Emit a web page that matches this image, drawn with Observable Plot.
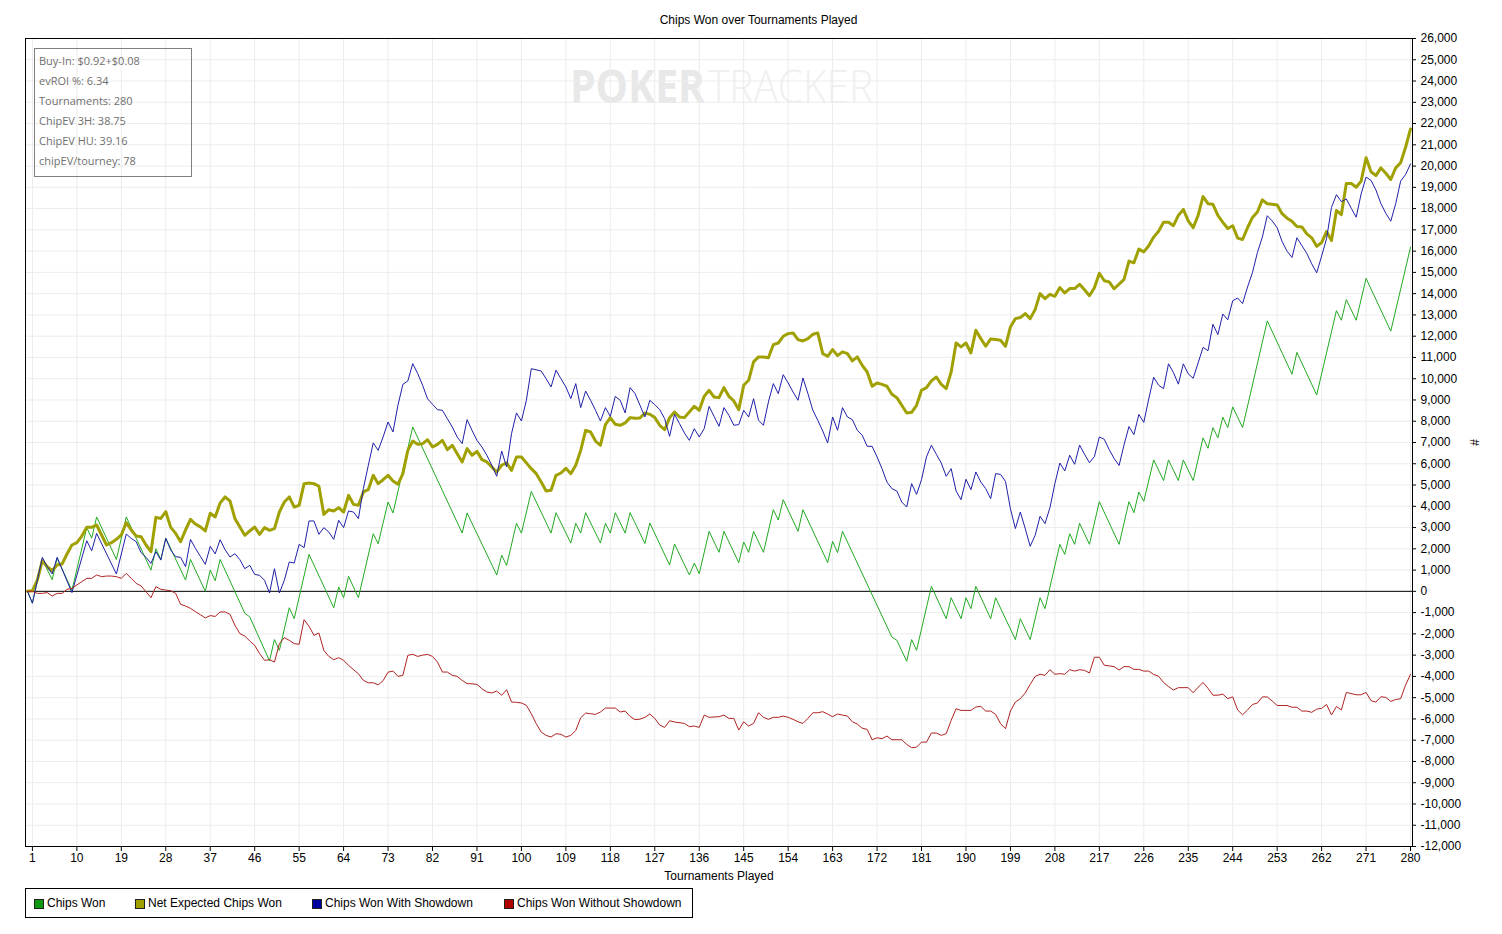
<!DOCTYPE html>
<html><head><meta charset="utf-8">
<script src="https://cdn.jsdelivr.net/npm/d3@7"></script>
<script src="https://cdn.jsdelivr.net/npm/@observablehq/plot@0.6"></script>
<style>
body{margin:0;background:#fff;}
#wrap{position:relative;width:1502px;height:934px;overflow:hidden;font-family:"Liberation Sans",Arial,sans-serif;color:#000;}
#wm{position:absolute;left:0;top:0;}
#chart{position:absolute;left:0;top:0;}
#title{position:absolute;left:0;width:1517px;top:13px;text-align:center;font-size:12px;}
#info{position:absolute;left:34px;top:48px;width:158px;height:129px;box-sizing:border-box;border:1px solid #808080;font-family:"Open Sans","Noto Sans",sans-serif;font-size:11px;color:#707070;}
#info div{position:absolute;left:4px;line-height:14px;white-space:nowrap;}
#legend{position:absolute;left:25px;top:888px;width:668px;height:30px;box-sizing:border-box;border:1px solid #000;font-size:12px;}
.sw{position:absolute;top:10px;width:8px;height:8px;border:1px solid #202020;box-sizing:content-box;}
.lt{position:absolute;top:7px;white-space:nowrap;line-height:14px;}
</style></head>
<body>
<div id="wrap">
<svg id="wm" width="1502" height="934">
  <text x="570" y="103" font-family="Open Sans" font-weight="700" font-size="46" fill="#e8e8e8" textLength="135" lengthAdjust="spacingAndGlyphs">POKER</text>
  <text x="708" y="103" font-family="Open Sans" font-weight="300" font-size="46" fill="#f0f0f0" textLength="165" lengthAdjust="spacingAndGlyphs">TRACKER</text>
</svg>
<div id="chart"></div>
<div id="title">Chips Won over Tournaments Played</div>
<div id="info"></div>
<div id="legend"></div>
</div>
<script>
// ---- data (tournament index, value) ----
const chipsWon = [[0,0],[1,-550],[3,1500],[5,550],[6,1550],[9,50],[12,3000],[13,2500],[14,3500],[18,1500],[20,3500],[25,1000],[26,2000],[27,1500],[28,2500],[32,530],[33,1500],[36,0],[37,1000],[38,500],[39,1500],[44,-1030],[45,-1200],[49,-3270],[50,-2270],[51,-2775],[53,-770],[54,-1285],[57,1740],[62,-770],[63,205],[64,-300],[65,705],[67,-300],[70,2710],[71,2240],[73,4200],[74,3685],[78,7730],[88,2744],[89,3685],[95,768],[96,1700],[97,1220],[99,3200],[100,2740],[102,4700],[106,2740],[107,3700],[110,2270],[111,3200],[112,2740],[113,3700],[116,2270],[117,3200],[118,2740],[119,3700],[121,2740],[122,3700],[125,2250],[126,3210],[130,1240],[131,2225],[134,770],[135,1330],[136,830],[138,2820],[140,1835],[141,2820],[144,1350],[145,2320],[146,1835],[147,2820],[149,1835],[151,3840],[152,3355],[153,4310],[156,2820],[157,3840],[162,1350],[163,2350],[164,1820],[165,2820],[175,-2150],[176,-2300],[178,-3290],[179,-2270],[180,-2775],[183,235],[186,-1285],[187,-300],[189,-1285],[190,-300],[191,-815],[192,235],[195,-1285],[196,-300],[200,-2270],[201,-1285],[203,-2270],[205,-300],[206,-815],[209,2210],[210,1740],[211,2710],[212,2210],[213,3200],[215,2210],[217,4220],[221,2210],[223,4220],[224,3700],[225,4670],[226,4235],[228,6180],[230,5210],[231,6180],[233,5210],[234,6180],[236,5210],[238,7220],[239,6730],[240,7700],[241,7220],[242,8190],[243,7700],[244,8675],[246,7700],[251,12720],[256,10210],[257,11240],[261,9235],[265,13200],[266,12750],[267,13720],[269,12750],[271,14720],[276,12235],[280,16185]];

const netExpected = [[0,0],[1,30],[2,530],[3,1440],[4,1160],[5,970],[6,1240],[7,1285],[8,1755],[9,2180],[10,2290],[11,2600],[12,3010],[13,3010],[14,3120],[15,2650],[16,2180],[17,2290],[18,2445],[19,2650],[20,3230],[21,2885],[22,2600],[23,2570],[24,2180],[25,1865],[26,3480],[27,3430],[28,3745],[29,3010],[30,2725],[31,2335],[32,2885],[33,3385],[34,3165],[35,3030],[36,2840],[37,3670],[38,3500],[39,4155],[40,4440],[41,4250],[42,3420],[43,3025],[44,2635],[45,2840],[46,3025],[47,2680],[48,2995],[49,2870],[50,2950],[51,3730],[52,4200],[53,4440],[54,3965],[55,4045],[56,5065],[57,5095],[58,5065],[59,4940],[60,3620],[61,3840],[62,3780],[63,3935],[64,3730],[65,4515],[66,4090],[67,4045],[68,4675],[69,4780],[70,5455],[71,5065],[72,5250],[73,5455],[74,5190],[75,5035],[76,5535],[77,6630],[78,7070],[79,6915],[80,6945],[81,7130],[82,6790],[83,6915],[84,7100],[85,6665],[86,6870],[87,6475],[88,6085],[89,6710],[90,6400],[91,6585],[92,6195],[93,6085],[94,5850],[95,5615],[96,5930],[97,6040],[98,5690],[99,6320],[100,6320],[101,6040],[102,5770],[103,5535],[104,5140],[105,4720],[106,4750],[107,5455],[108,5565],[109,5785],[110,5535],[111,5930],[112,6630],[113,7570],[114,7495],[115,7070],[116,6870],[117,7840],[118,8170],[119,7855],[120,7810],[121,7920],[122,8170],[123,8140],[124,8150],[125,8390],[126,8325],[127,8170],[128,7810],[129,7600],[130,8170],[131,8435],[132,8200],[133,8170],[134,8435],[135,8700],[136,8515],[137,9170],[138,9455],[139,9140],[140,9110],[141,9580],[142,9170],[143,8955],[144,8545],[145,9690],[146,9925],[147,10790],[148,11025],[149,11025],[150,10990],[151,11600],[152,11680],[153,11995],[154,12120],[155,12150],[156,11840],[157,11775],[158,11885],[159,12090],[160,12150],[161,11180],[162,11055],[163,11370],[164,11085],[165,11260],[166,11180],[167,10835],[168,11025],[169,10630],[170,10315],[171,9645],[172,9800],[173,9735],[174,9645],[175,9265],[176,9110],[177,8750],[178,8390],[179,8420],[180,8750],[181,9455],[182,9580],[183,9895],[184,10080],[185,9735],[186,9535],[187,10315],[188,11680],[189,11495],[190,11680],[191,11210],[192,12275],[193,11885],[194,11525],[195,11870],[196,11840],[197,11805],[198,11525],[199,12435],[200,12825],[201,12875],[202,13060],[203,12825],[204,13250],[205,14000],[206,13765],[207,13970],[208,13875],[209,14285],[210,14035],[211,14240],[212,14240],[213,14440],[214,14185],[215,13905],[216,14280],[217,14960],[218,14605],[219,14555],[220,14230],[221,14445],[222,14670],[223,15530],[224,15450],[225,16095],[226,15965],[227,16255],[228,16660],[229,16935],[230,17355],[231,17355],[232,17195],[233,17680],[234,17960],[235,17425],[236,17100],[237,17680],[238,18570],[239,18230],[240,18200],[241,17680],[242,17355],[243,17065],[244,17195],[245,16610],[246,16545],[247,17100],[248,17585],[249,17840],[250,18410],[251,18230],[252,18200],[253,18165],[254,17760],[255,17550],[256,17400],[257,17160],[258,17140],[259,16810],[260,16625],[261,16225],[262,16405],[263,16920],[264,16500],[265,17910],[266,17720],[267,19185],[268,19185],[269,19005],[270,19295],[271,20390],[272,19735],[273,19550],[274,19915],[275,19660],[276,19370],[277,19915],[278,20155],[279,20885],[280,21745]];

const withShowdown = [[0,0],[1,-560],[3,1600],[4,1160],[5,815],[6,1600],[9,-60],[12,2380],[13,1910],[14,2725],[18,815],[20,2695],[21,2490],[22,2335],[23,1820],[24,1600],[25,1315],[26,1865],[27,1470],[28,2490],[29,1945],[30,1630],[31,1600],[32,1160],[33,2445],[34,2020],[35,1650],[36,1270],[37,2115],[38,1760],[39,2430],[40,1960],[41,1615],[42,1770],[43,1490],[44,1066],[45,1225],[46,800],[47,750],[48,517],[49,-80],[50,1066],[51,-80],[52,517],[53,1380],[54,1330],[55,2210],[56,2055],[57,3310],[58,3310],[59,2680],[60,2995],[61,2790],[62,2445],[63,3340],[64,2995],[65,3780],[66,3730],[67,3420],[68,4830],[69,5925],[70,6980],[71,6630],[72,7260],[73,7965],[74,7495],[75,8750],[76,9735],[77,9895],[78,10710],[79,10240],[80,9690],[81,9050],[82,8800],[83,8545],[84,8515],[85,8120],[86,7730],[87,7260],[88,6946],[89,8075],[90,7570],[91,7100],[92,6790],[93,6400],[94,5930],[95,5410],[96,6600],[97,5850],[98,7420],[99,8390],[100,8010],[101,8985],[102,10470],[104,10365],[105,10000],[106,9610],[107,10400],[108,10000],[109,9610],[110,9065],[111,9770],[112,8640],[113,9420],[114,8985],[115,8515],[116,8010],[117,8640],[118,8230],[119,9170],[120,8985],[121,8390],[122,9580],[123,9300],[124,8750],[125,8200],[126,8985],[127,8780],[128,8545],[129,8120],[130,7290],[131,8325],[132,7890],[133,7450],[134,7100],[135,7650],[136,7260],[137,7650],[138,8700],[139,8230],[140,7760],[141,8640],[142,8280],[143,7810],[144,7840],[145,8515],[146,8200],[147,9060],[148,8045],[149,7810],[150,8905],[151,9770],[152,9300],[153,10190],[154,9800],[155,9375],[156,8985],[157,10035],[158,9300],[159,8515],[160,8045],[161,7540],[162,6980],[163,8200],[164,7575],[165,8640],[166,8200],[167,8075],[168,7575],[169,7340],[170,6820],[171,6820],[172,6320],[173,5770],[174,5140],[175,4830],[176,4720],[177,4200],[178,3965],[179,5065],[180,4560],[181,5250],[182,6320],[183,6870],[184,6445],[185,6035],[186,5410],[187,5770],[188,4720],[189,4310],[190,5270],[191,4780],[192,5615],[193,5140],[194,4830],[195,4360],[196,5535],[197,5500],[198,5170],[199,3885],[200,2950],[201,3730],[202,2950],[203,2120],[204,2635],[205,3530],[206,3185],[207,3935],[208,5065],[209,6035],[210,5660],[211,6400],[212,5975],[213,6880],[214,6445],[215,6050],[216,6340],[217,7260],[218,7150],[219,6665],[220,6245],[221,5920],[222,6890],[223,7750],[224,7370],[225,8320],[226,7945],[227,9045],[228,10070],[229,9695],[230,9530],[231,10700],[232,10290],[233,9745],[234,10700],[235,10230],[236,10020],[237,10745],[238,11475],[239,11315],[240,12560],[241,12075],[242,13045],[243,12770],[244,13665],[245,13795],[246,13535],[247,14310],[248,14990],[249,15930],[250,16660],[251,17665],[252,17420],[253,17100],[254,16450],[255,16000],[256,15700],[257,16630],[258,16260],[259,15895],[260,15400],[261,14980],[262,15765],[263,16590],[264,18050],[265,18655],[266,18325],[267,18455],[268,18015],[269,17595],[270,18690],[271,19480],[272,19330],[273,18875],[274,18235],[275,17780],[276,17410],[277,18235],[278,19295],[279,19605],[280,20100]];

const withoutShowdown = [[0,0],[1,0],[2,-95],[3,-95],[4,-60],[5,-220],[6,-95],[7,-95],[8,95],[9,140],[10,300],[11,455],[12,610],[13,610],[14,770],[15,690],[16,720],[17,720],[18,690],[19,610],[20,845],[21,610],[22,375],[23,250],[24,-15],[25,-300],[26,220],[27,95],[28,60],[29,30],[30,-95],[31,-610],[32,-690],[33,-800],[34,-955],[35,-1100],[36,-1250],[37,-1140],[38,-1180],[39,-970],[40,-970],[41,-1080],[42,-1600],[43,-1990],[44,-2100],[45,-2335],[46,-2540],[47,-2930],[48,-3245],[49,-3215],[50,-3325],[51,-2460],[52,-2180],[53,-2305],[54,-2460],[55,-2490],[56,-1330],[57,-1645],[58,-2070],[59,-1960],[60,-2775],[61,-3060],[62,-3215],[63,-3120],[64,-3245],[65,-3480],[66,-3685],[67,-3875],[68,-4185],[69,-4300],[70,-4300],[71,-4400],[72,-4200],[73,-3800],[74,-3750],[75,-4000],[76,-3950],[77,-3010],[78,-2960],[79,-3060],[80,-3000],[81,-2965],[82,-3060],[83,-3325],[84,-3795],[85,-3795],[86,-3950],[87,-4000],[88,-4185],[89,-4340],[90,-4350],[91,-4375],[92,-4580],[93,-4735],[94,-4780],[95,-4690],[96,-4890],[97,-4625],[98,-5205],[99,-5220],[100,-5250],[101,-5360],[102,-5755],[103,-6225],[104,-6615],[105,-6775],[106,-6850],[107,-6695],[108,-6725],[109,-6850],[110,-6775],[111,-6540],[112,-5945],[113,-5725],[114,-5755],[115,-5785],[116,-5675],[117,-5490],[118,-5490],[119,-5490],[120,-5675],[121,-5630],[122,-5880],[123,-6035],[124,-6010],[125,-5925],[126,-5770],[127,-5975],[128,-6290],[129,-6400],[130,-6085],[131,-6145],[133,-6210],[134,-6365],[135,-6335],[136,-6400],[137,-5820],[138,-5925],[140,-5895],[141,-5820],[142,-5975],[143,-5975],[144,-6525],[145,-6135],[146,-6335],[147,-6210],[148,-5710],[149,-5925],[150,-6020],[151,-5925],[152,-5925],[153,-5865],[154,-5925],[155,-6020],[156,-6135],[157,-6210],[158,-5975],[159,-5710],[160,-5710],[161,-5660],[162,-5770],[163,-5895],[164,-5770],[165,-5820],[166,-5865],[167,-6135],[168,-6240],[169,-6440],[170,-6490],[171,-6980],[172,-6885],[173,-6930],[174,-6805],[175,-6980],[177,-6980],[178,-7200],[179,-7355],[180,-7325],[181,-7090],[182,-7090],[183,-6665],[184,-6665],[185,-6775],[186,-6695],[187,-6070],[188,-5520],[189,-5600],[191,-5600],[192,-5440],[193,-5410],[194,-5630],[195,-5630],[196,-5785],[197,-6225],[198,-6460],[199,-5630],[200,-5205],[201,-5050],[202,-4780],[203,-4375],[204,-4000],[205,-3900],[206,-3950],[207,-3685],[208,-3900],[209,-3870],[210,-3900],[211,-3685],[212,-3750],[213,-3685],[214,-3715],[215,-3840],[216,-3100],[217,-3100],[218,-3475],[220,-3540],[221,-3700],[222,-3540],[223,-3540],[224,-3670],[225,-3670],[226,-3750],[227,-3750],[228,-3910],[229,-3995],[230,-4285],[231,-4480],[232,-4640],[233,-4530],[235,-4530],[236,-4770],[237,-4510],[238,-4285],[239,-4560],[240,-4885],[241,-4885],[242,-4835],[243,-5045],[244,-4965],[245,-5580],[246,-5805],[247,-5580],[248,-5320],[249,-5255],[250,-4965],[251,-4965],[252,-5160],[253,-5370],[254,-5370],[255,-5370],[256,-5450],[257,-5450],[258,-5630],[259,-5630],[260,-5690],[261,-5540],[262,-5505],[263,-5320],[264,-5815],[265,-5415],[266,-5580],[267,-4755],[269,-4865],[270,-4865],[271,-4755],[272,-5140],[273,-5210],[274,-4955],[275,-4990],[276,-5175],[277,-5085],[278,-5050],[279,-4410],[280,-3900]];

const seriesNames = ["Chips Won", "Net Expected Chips Won", "Chips Won With Showdown", "Chips Won Without Showdown"];
const lineColors = ["#22aa22", "#a0a000", "#2020aa", "#b02222"];
const swatchColors = ["#119911", "#a0a000", "#0000a0", "#b00000"];
const lineWidths = [1, 3, 1, 1];
const xTicks = d3.range(1, 281, 9);
const yTicks = d3.range(-12000, 26001, 1000);
const infoLines = ["Buy-In: $0.92+$0.08", "evROI %: 6.34", "Tournaments: 280", "ChipEV 3H: 38.75", "ChipEV HU: 39.16", "chipEV/tourney: 78"];

const allSeries = [chipsWon, netExpected, withShowdown, withoutShowdown];
const rows = allSeries.map((s, i) => s.map(([t, v]) => ({t, v, series: seriesNames[i]})));

const fmt = d => (d < 0 ? "-" : "") + d3.format(",")(Math.abs(d));

const chart = Plot.plot({
  width: 1502,
  height: 934,
  marginTop: 38,
  marginRight: 90,
  marginBottom: 88,
  marginLeft: 25,
  style: {fontFamily: "Liberation Sans, Arial, sans-serif", fontSize: "12px", color: "#000", background: "transparent", overflow: "visible"},
  x: {domain: [-0.4, 280.4]},
  y: {domain: [-12000, 26000]},
  marks: [
    Plot.gridX(xTicks, {stroke: "#ececec", strokeOpacity: 1}),
    Plot.gridY(yTicks, {stroke: "#ececec", strokeOpacity: 1}),
    Plot.ruleY([0], {stroke: "#000", strokeWidth: 1}),
    ...rows.map((r, i) => Plot.line(r, {x: "t", y: "v", stroke: lineColors[i], strokeWidth: lineWidths[i], strokeLinejoin: "round"})),
    Plot.frame({stroke: "#000"}),
    Plot.axisX(xTicks, {anchor: "bottom", tickSize: 5, tickPadding: 2, fontSize: 12, tickFormat: d => String(d), label: "Tournaments Played", labelAnchor: "center", labelArrow: "none", labelOffset: 33}),
    Plot.axisY(yTicks, {anchor: "right", tickSize: 3, tickPadding: 5, fontSize: 12, tickFormat: fmt, label: "#", labelAnchor: "center", labelArrow: "none", labelOffset: 66})
  ]
});
document.getElementById("chart").appendChild(chart);

const info = document.getElementById("info");
infoLines.forEach((txt, i) => {
  const d = document.createElement("div");
  d.textContent = txt;
  d.style.top = (5 + i * 20) + "px";
  info.appendChild(d);
});

const legend = document.getElementById("legend");
const swX = [8, 109, 286, 478];
seriesNames.forEach((name, i) => {
  const s = document.createElement("div");
  s.className = "sw";
  s.style.left = swX[i] + "px";
  s.style.background = swatchColors[i];
  legend.appendChild(s);
  const t = document.createElement("div");
  t.className = "lt";
  t.style.left = (swX[i] + 13) + "px";
  t.textContent = name;
  legend.appendChild(t);
});
</script>
</body></html>
